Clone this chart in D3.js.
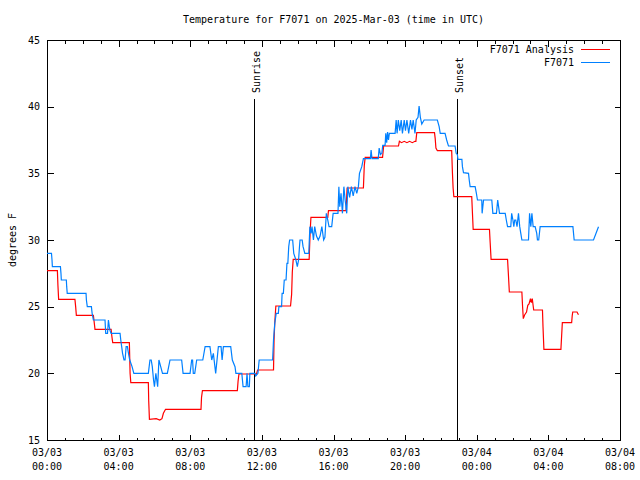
<!DOCTYPE html>
<html><head><meta charset="utf-8">
<script src="https://cdn.jsdelivr.net/npm/d3@7"></script>
<style>
body{margin:0;background:#fff}
text{font-family:"DejaVu Sans Mono","Liberation Mono",monospace;font-size:10px;fill:#000}
</style>
</head><body>
<svg id="chart" width="640" height="480"></svg>
<script>
// ---- data (hours since 03/03 00:00 UTC, degrees F) ----
const titleText = "Temperature for F7071 on 2025-Mar-03 (time in UTC)";
const yLabel = "degrees F";
const seriesNames = ["F7071 Analysis", "F7071"];
const seriesColors = ["#ff0000", "#0080ff"];
const yTicks = [15, 20, 25, 30, 35, 40, 45];
const xTickHours = [0, 4, 8, 12, 16, 20, 24, 28, 32];
const xTickDates = ["03/03", "03/03", "03/03", "03/03", "03/03", "03/03", "03/04", "03/04", "03/04"];
const xTickTimes = ["00:00", "04:00", "08:00", "12:00", "16:00", "20:00", "00:00", "04:00", "08:00"];
const sunNames = ["Sunrise", "Sunset"];
const sunHours = [11.58, 22.92];

const analysis = [
[0,27.7],[0.58,27.7],[0.61,26.6],[0.65,25.55],[1.56,25.55],[1.6,25.0],[1.64,24.35],[2.59,24.35],[2.63,23.9],[2.68,23.3],
[3.58,23.3],[3.62,22.8],[3.67,22.3],[4.6,22.3],[4.64,20.0],[4.68,19.3],[5.66,19.3],[5.68,17.95],[5.72,16.55],[6.1,16.6],
[6.3,16.5],[6.42,16.6],[6.5,17.0],[6.62,17.3],[8.6,17.3],[8.63,18.2],[8.68,18.7],[10.63,18.7],[10.67,19.4],[10.72,19.95],
[11.7,19.95],[11.76,20.25],[12.65,20.25],[12.68,22.5],[12.72,23.8],[12.78,25.05],[13.6,25.05],[13.66,25.9],[13.7,27.6],[13.75,28.55],
[14.64,28.55],[14.7,30.75],[14.74,31.7],[15.68,31.7],[15.72,32.2],[16.7,32.2],[16.76,33.9],[17.67,33.9],[17.72,35.6],[17.77,36.2],
[18.74,36.2],[18.8,37.05],[19.63,37.05],[19.68,37.4],[19.8,37.3],[19.95,37.4],[20.1,37.3],[20.25,37.4],[20.4,37.3],[20.55,37.4],
[20.6,37.4],[20.65,38.05],[21.64,38.05],[21.68,37.6],[21.72,36.9],[21.8,36.7],[22.6,36.7],[22.64,35.1],[22.68,33.9],[22.72,33.25],
[23.72,33.25],[23.76,32.0],[23.8,30.8],[24.71,30.8],[24.75,29.8],[24.8,28.55],[25.72,28.55],[25.76,27.6],[25.82,26.1],[26.52,26.1],
[26.56,25.0],[26.6,24.1],[26.68,24.4],[26.78,24.6],[26.85,25.1],[26.92,25.2],[27.0,25.6],[27.05,25.3],[27.1,25.6],[27.18,24.75],
[27.67,24.75],[27.7,23.5],[27.75,21.8],[28.7,21.8],[28.74,22.8],[28.78,23.8],[29.3,23.8],[29.33,24.3],[29.36,24.6],[29.6,24.6],[29.68,24.4]
];

const observed = [
[0,29.0],[0.25,29.0],[0.28,28.5],[0.3,28.0],[0.75,28.0],[0.78,27.5],[0.8,27.0],[1.08,27.0],[1.1,26.5],[1.13,26.0],
[2.18,26.0],[2.2,25.5],[2.25,25.0],[2.48,25.0],[2.52,24.5],[2.59,24.0],[3.24,24.0],[3.28,23.0],[3.38,23.0],[3.43,24.0],
[3.48,23.5],[3.52,23.2],[3.58,23.0],[4.08,23.0],[4.12,22.5],[4.17,22.0],[4.22,21.5],[4.3,21.0],[4.36,21.0],[4.42,22.0],
[4.49,22.0],[4.55,21.5],[4.62,21.0],[4.75,20.5],[4.85,20.0],[5.66,20.0],[5.75,21.0],[5.82,21.0],[5.88,20.5],[5.95,19.5],
[6.0,19.0],[6.08,20.0],[6.13,19.5],[6.18,19.0],[6.25,21.0],[6.35,20.5],[6.45,20.0],[6.72,20.0],[6.87,21.0],[7.52,21.0],
[7.6,20.0],[7.99,20.0],[8.08,21.0],[8.13,21.0],[8.17,20.0],[8.25,20.0],[8.36,21.0],[8.7,21.0],[8.83,22.0],[9.1,22.0],
[9.15,21.5],[9.2,21.0],[9.29,21.5],[9.42,20.0],[9.57,22.0],[9.72,22.0],[9.78,21.0],[9.85,22.0],[10.26,22.0],[10.35,21.0],
[10.5,20.5],[10.55,20.0],[10.88,20.0],[10.95,19.0],[11.12,19.0],[11.17,20.0],[11.22,19.0],[11.3,19.0],[11.33,20.0],[11.62,20.0],
[11.66,19.8],[11.78,20.0],[11.85,21.0],[12.6,21.0],[12.65,22.5],[12.72,23.75],[12.8,24.5],[12.92,24.5],[12.95,25.0],[13.1,25.0],
[13.13,26.0],[13.2,26.0],[13.25,27.0],[13.35,27.0],[13.4,28.25],[13.45,28.25],[13.5,29.5],[13.55,30.0],[13.72,30.0],[13.78,29.0],
[13.9,28.5],[13.98,28.0],[14.05,28.5],[14.1,29.5],[14.13,30.0],[14.25,30.0],[14.3,29.5],[14.4,29.0],[14.62,29.0],[14.68,31.0],
[14.75,30.5],[14.8,31.0],[14.88,30.0],[14.95,31.0],[15.05,30.3],[15.15,30.0],[15.25,30.3],[15.35,31.0],[15.45,30.0],[15.52,30.2],
[15.6,32.0],[15.68,31.5],[15.75,31.0],[15.9,31.0],[15.98,32.0],[16.25,32.0],[16.3,34.0],[16.35,32.5],[16.42,33.5],[16.5,32.0],
[16.58,34.0],[16.65,33.0],[16.74,32.0],[16.8,34.0],[16.9,33.2],[17.0,34.0],[17.1,33.3],[17.2,34.0],[17.3,33.5],[17.39,34.0],
[17.45,35.0],[17.58,35.5],[17.67,36.1],[18.06,36.1],[18.1,36.75],[18.15,36.1],[18.5,36.1],[18.55,36.9],[18.62,36.4],[18.7,36.5],
[18.75,37.1],[18.88,37.1],[18.92,38.0],[18.97,37.3],[19.02,38.1],[19.07,37.5],[19.12,38.0],[19.44,38.0],[19.5,39.0],[19.55,38.0],
[19.62,39.0],[19.7,38.2],[19.78,39.0],[19.85,38.0],[19.95,39.0],[20.02,38.2],[20.1,39.0],[20.2,38.0],[20.3,39.0],[20.38,38.3],
[20.45,39.0],[20.55,38.0],[20.62,39.0],[20.72,39.2],[20.78,40.05],[20.85,39.2],[20.93,38.7],[21.06,39.0],[21.8,39.0],[21.9,38.5],
[21.96,38.0],[22.23,38.0],[22.32,37.5],[22.42,37.05],[22.79,37.05],[22.85,36.5],[22.92,36.4],[22.95,36.05],[23.17,36.05],[23.2,35.5],
[23.26,35.05],[23.54,35.0],[23.58,34.5],[23.63,34.0],[23.91,34.0],[23.98,33.5],[24.04,33.0],[24.28,33.0],[24.3,32.0],[24.38,33.0],
[24.84,33.0],[24.9,32.0],[25.1,32.0],[25.17,33.0],[25.22,32.5],[25.27,32.0],[25.59,32.0],[25.65,31.5],[25.72,31.0],[25.9,31.0],
[25.95,32.0],[26.02,31.5],[26.07,31.0],[26.12,31.5],[26.18,31.5],[26.25,31.0],[26.33,32.0],[26.4,31.0],[26.46,30.5],[26.52,30.0],
[26.89,30.0],[26.95,32.0],[27.02,31.0],[27.08,32.0],[27.15,31.0],[27.26,31.0],[27.35,30.5],[27.39,30.0],[27.46,30.0],[27.54,31.0],
[29.37,31.0],[29.44,30.0],[30.52,30.0],[30.8,31.0]
];

// ---- layout ----
const L = 47, R = 620, T = 40, B = 440;
const svg = d3.select("#chart");
const x = d3.scaleLinear().domain([0, 32]).range([L, R]);
const y = d3.scaleLinear().domain([15, 45]).range([B, T]);
const px = v => Math.round(v) + 0.5;

// title
svg.append("text").attr("x", (L + R) / 2).attr("y", 23).attr("text-anchor", "middle").text(titleText);

// y label
svg.append("text").attr("transform", "translate(15.5,240) rotate(-90)").attr("text-anchor", "middle").text(yLabel);

const g = svg.append("g").attr("shape-rendering", "crispEdges");

// ticks
const minorHours = d3.range(0, 33, 1);
minorHours.forEach(h => {
  const major = h % 4 === 0;
  const len = major ? 6 : 3;
  const xx = px(x(h));
  g.append("line").attr("x1", xx).attr("x2", xx).attr("y1", px(B)).attr("y2", px(B) - len).attr("stroke", "#000");
  g.append("line").attr("x1", xx).attr("x2", xx).attr("y1", px(T)).attr("y2", px(T) + len).attr("stroke", "#000");
});
yTicks.forEach(v => {
  const yy = px(y(v));
  g.append("line").attr("x1", px(L)).attr("x2", px(L) + 6).attr("y1", yy).attr("y2", yy).attr("stroke", "#000");
  g.append("line").attr("x1", px(R)).attr("x2", px(R) - 6).attr("y1", yy).attr("y2", yy).attr("stroke", "#000");
  svg.append("text").attr("x", 40).attr("y", y(v) + 3.6).attr("text-anchor", "end").text(v);
});
xTickHours.forEach((h, i) => {
  svg.append("text").attr("x", x(h)).attr("y", 456).attr("text-anchor", "middle").text(xTickDates[i]);
  svg.append("text").attr("x", x(h)).attr("y", 470).attr("text-anchor", "middle").text(xTickTimes[i]);
});

// sunrise / sunset
sunHours.forEach((h, i) => {
  const xx = px(x(h));
  g.append("line").attr("x1", xx).attr("x2", xx).attr("y1", 99).attr("y2", px(B)).attr("stroke", "#000");
  svg.append("text").attr("transform", `translate(${x(h) + 6},93) rotate(-90)`).attr("text-anchor", "start").text(sunNames[i]);
});

// data lines
const line = d3.line().x(d => x(d[0])).y(d => y(d[1]));
[analysis, observed].forEach((data, i) => {
  svg.append("path").datum(data).attr("d", line).attr("fill", "none")
    .attr("stroke", seriesColors[i]).attr("stroke-width", 1.2).attr("stroke-linejoin", "miter");
});

// legend
seriesNames.forEach((name, i) => {
  const cy = 49 + i * 13;
  svg.append("text").attr("x", 574).attr("y", cy + 3.6).attr("text-anchor", "end").text(name);
  g.append("line").attr("x1", 581).attr("x2", 610).attr("y1", px(cy)).attr("y2", px(cy)).attr("stroke", seriesColors[i]);
});

// border
g.append("rect").attr("x", px(L)).attr("y", px(T)).attr("width", R - L).attr("height", B - T)
  .attr("fill", "none").attr("stroke", "#000");
</script>
</body></html>
